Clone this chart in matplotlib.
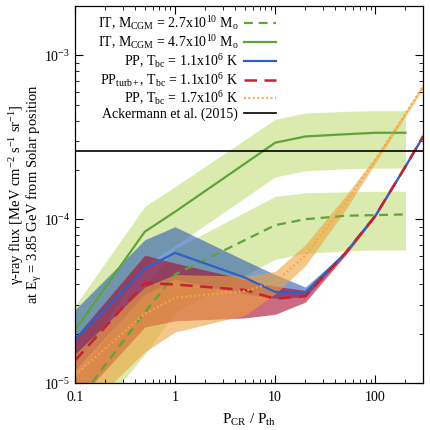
import numpy as np
import matplotlib
matplotlib.use("Agg")
import matplotlib.pyplot as plt
from matplotlib.ticker import LogLocator, FixedLocator, FixedFormatter

plt.rcParams['font.family'] = ['Liberation Serif', 'DejaVu Serif']
plt.rcParams['mathtext.fontset'] = 'custom'
plt.rcParams['mathtext.rm'] = 'Liberation Serif'
plt.rcParams['mathtext.it'] = 'Liberation Serif:italic'

# IT models (green), P_CR/P_th up to 200
x_it = [0.1, 0.5, 1, 10, 20, 50, 100, 200]
it27 = [7.3e-6, 2.7e-5, 4.6e-5, 9.2e-5, 1.0e-4, 1.05e-4, 1.06e-4, 1.07e-4]
it27_lo = [4.5e-6, 1.5e-5, 2.7e-5, 5.7e-5, 6.2e-5, 6.4e-5, 6.5e-5, 6.5e-5]
it27_hi = [1.05e-5, 3.9e-5, 6.6e-5, 1.38e-4, 1.45e-4, 1.47e-4, 1.48e-4, 1.48e-4]
it47 = [2.1e-5, 8.4e-5, 1.11e-4, 2.93e-4, 3.2e-4, 3.3e-4, 3.37e-4, 3.37e-4]
it47_lo = [1.3e-5, 5.2e-5, 6.9e-5, 1.81e-4, 1.98e-4, 2.03e-4, 2.05e-4, 2.05e-4]
it47_hi = [2.95e-5, 1.2e-4, 1.58e-4, 4.07e-4, 4.45e-4, 4.55e-4, 4.6e-4, 4.6e-4]

# PP models
x_pp = [0.1, 0.5, 1, 5, 10, 20, 50, 100, 200, 300]
pp11 = [1.85e-5, 5.0e-5, 6.24e-5, 4.4e-5, 3.6e-5, 3.57e-5, 6.2e-5, 1.05e-4, 2.1e-4, 3.2e-4]
pp11_lo = [1.2e-5, 3.5e-5, 4.3e-5, 3.5e-5, 3.3e-5, 3.35e-5, 6.1e-5, 1.04e-4, 2.08e-4, 3.18e-4]
pp11_hi = [2.8e-5, 7.5e-5, 9.0e-5, 5.6e-5, 4.6e-5, 3.86e-5, 6.3e-5, 1.07e-4, 2.12e-4, 3.22e-4]
ppt = [1.37e-5, 4.08e-5, 4.0e-5, 3.7e-5, 3.27e-5, 3.4e-5, 6.2e-5, 1.05e-4, 2.1e-4, 3.2e-4]
ppt_lo = [7.5e-6, 2.2e-5, 2.4e-5, 2.5e-5, 2.63e-5, 3.12e-5, 6.0e-5, 1.03e-4, 2.08e-4, 3.18e-4]
ppt_hi = [1.9e-5, 6.04e-5, 5.4e-5, 4.3e-5, 3.9e-5, 3.68e-5, 6.3e-5, 1.07e-4, 2.12e-4, 3.22e-4]
pp17 = [1.12e-5, 2.65e-5, 3.32e-5, 3.65e-5, 4.14e-5, 6.0e-5, 1.25e-4, 2.3e-4, 4.4e-4, 6.5e-4]
pp17_lo = [6e-6, 1.55e-5, 2.05e-5, 2.6e-5, 3.5e-5, 5.2e-5, 1.13e-4, 2.2e-4, 4.25e-4, 6.3e-4]
pp17_hi = [1.5e-5, 3.86e-5, 4.6e-5, 4.5e-5, 4.8e-5, 7.0e-5, 1.38e-4, 2.4e-4, 4.55e-4, 6.7e-4]

ackermann = 2.6e-4

labels = [r'IT, M$_{\rm CGM}$ = 2.7x10$^{10}$ M$_{\rm o}$',
          r'IT, M$_{\rm CGM}$ = 4.7x10$^{10}$ M$_{\rm o}$',
          r'PP, T$_{\rm bc}$ = 1.1x10$^{6}$ K',
          r'PP$_{\rm turb+}$, T$_{\rm bc}$ = 1.1x10$^{6}$ K',
          r'PP, T$_{\rm bc}$ = 1.7x10$^{6}$ K',
          'Ackermann et al. (2015)']

green = '#5fa33a'
gband = '#a6ce39'
blue = '#2f5fc8'
red = '#c8202e'
orange = '#f7a83a'

fig = plt.figure(figsize=(4.3, 4.3), dpi=100)
ax = fig.add_axes([0.174, 0.109, 0.81, 0.877])

ax.fill_between(x_it, it27_lo, it27_hi, color=gband, alpha=0.4, lw=0)
l1, = ax.plot(x_it, it27, color=green, lw=1.6, dashes=(4, 2.6))
ax.fill_between(x_it, it47_lo, it47_hi, color=gband, alpha=0.4, lw=0)
l2, = ax.plot(x_it, it47, color=green, lw=1.6)
ax.fill_between(x_pp, pp11_lo, pp11_hi, color='#2a5db0', alpha=0.6, lw=0)
l3, = ax.plot(x_pp, pp11, color=blue, lw=1.6)
ax.fill_between(x_pp, ppt_lo, ppt_hi, color='#a8082a', alpha=0.6, lw=0)
l4, = ax.plot(x_pp, ppt, color=red, lw=1.8, dashes=(5, 3))
ax.fill_between(x_pp, pp17_lo, pp17_hi, color='#eea33f', alpha=0.6, lw=0)
l5, = ax.plot(x_pp, pp17, color=orange, lw=1.6, dashes=(0.8, 1.2))
l6 = ax.axhline(ackermann, color='black', lw=1.2)

ax.set_xscale('log')
ax.set_yscale('log')
ax.set_xlim(0.1, 300)
ax.set_ylim(1e-5, 2e-3)

ax.xaxis.set_major_locator(FixedLocator([0.1, 1, 10, 100]))
ax.xaxis.set_major_formatter(FixedFormatter(['0.1', '1', '10', '100']))
ax.xaxis.set_minor_locator(LogLocator(base=10, subs=np.arange(2, 10)))
ax.yaxis.set_minor_locator(LogLocator(base=10, subs=np.arange(2, 10)))
ax.tick_params(which='both', direction='in', top=True, right=True, labelsize=10)
ax.tick_params(which='major', length=6, width=0.8)
ax.tick_params(which='minor', length=3, width=0.6)
ax.tick_params(axis='x', pad=6)
for s in ax.spines.values():
    s.set_linewidth(0.9)

ax.set_xlabel(r'P$_{\rm CR}$ / P$_{\rm th}$', fontsize=11, labelpad=5)
ax.set_ylabel('γ-ray flux [MeV cm$^{-2}$ s$^{-1}$ sr$^{-1}$]\nat E$_{\\rm γ}$ = 3.85 GeV from Solar position',
              fontsize=10.5, linespacing=0.9)
ax.yaxis.set_label_coords(-0.088, 0.5)

leg = ax.legend([l1, l2, l3, l4, l5, l6], labels, loc='upper right',
                bbox_to_anchor=(0.585, 0.985), frameon=False, markerfirst=False,
                fontsize=10, handlelength=2.3, handletextpad=0.4,
                labelspacing=0.05, borderaxespad=0, borderpad=0.2)

fig.savefig('out.png', dpi=100)
